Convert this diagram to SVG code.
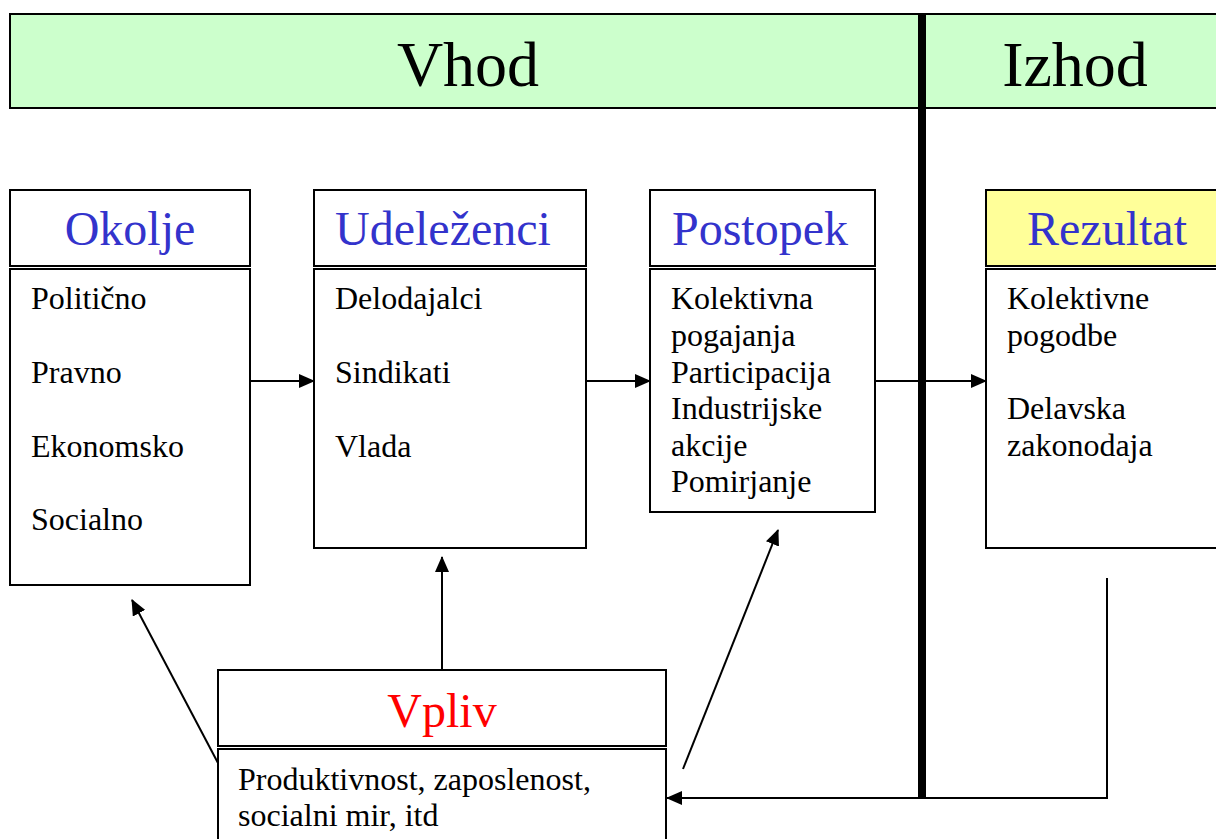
<svg xmlns="http://www.w3.org/2000/svg" width="1216" height="839" viewBox="0 0 1216 839">
<style>
.box{fill:#fff;stroke:#000;stroke-width:2}
.t{font-family:"Liberation Serif","Times New Roman",serif;font-size:32px;fill:#000}
.h{font-family:"Liberation Serif","Times New Roman",serif;font-size:48px;fill:#3333CC;text-anchor:middle}
.big{font-family:"Liberation Serif","Times New Roman",serif;font-size:64px;fill:#000;text-anchor:middle}
.ln{stroke:#000;stroke-width:2;fill:none}
</style>
<defs>
<marker id="ah" markerUnits="userSpaceOnUse" markerWidth="16" markerHeight="14" refX="15" refY="7" orient="auto">
<path d="M0,0 L16,7 L0,14 Z" fill="#000"/>
</marker>
</defs>
<rect width="1216" height="839" fill="#fff"/>
<g id="header">
<rect x="10" y="14" width="1212" height="94" fill="#CCFFCC" stroke="#000" stroke-width="2"/>
<text class="big" x="468" y="86">Vhod</text>
<text class="big" x="1075" y="86">Izhod</text>
</g>
<g id="okolje">
<rect class="box" x="10" y="190" width="240" height="76"/>
<text class="h" x="130" y="245">Okolje</text>
<rect class="box" x="10" y="269" width="240" height="316"/>
<text class="t" x="31" y="309">Politično</text>
<text class="t" x="31" y="383">Pravno</text>
<text class="t" x="31" y="457">Ekonomsko</text>
<text class="t" x="31" y="530">Socialno</text>
</g>
<g id="udelezenci">
<rect class="box" x="314" y="190" width="272" height="76"/>
<text class="h" x="443" y="245">Udeleženci</text>
<rect class="box" x="314" y="269" width="272" height="279"/>
<text class="t" x="335" y="309">Delodajalci</text>
<text class="t" x="335" y="383">Sindikati</text>
<text class="t" x="335" y="457">Vlada</text>
</g>
<g id="postopek">
<rect class="box" x="650" y="190" width="225" height="76"/>
<text class="h" x="760" y="245">Postopek</text>
<rect class="box" x="650" y="269" width="225" height="243"/>
<text class="t" x="671" y="309">Kolektivna</text>
<text class="t" x="671" y="346">pogajanja</text>
<text class="t" x="671" y="383">Participacija</text>
<text class="t" x="671" y="419">Industrijske</text>
<text class="t" x="671" y="456">akcije</text>
<text class="t" x="671" y="492">Pomirjanje</text>
</g>
<g id="rezultat">
<rect x="986" y="190" width="240" height="76" fill="#FFFF99" stroke="#000" stroke-width="2"/>
<text class="h" x="1107" y="245">Rezultat</text>
<rect class="box" x="986" y="269" width="240" height="279"/>
<text class="t" x="1007" y="309">Kolektivne</text>
<text class="t" x="1007" y="346">pogodbe</text>
<text class="t" x="1007" y="419">Delavska</text>
<text class="t" x="1007" y="456">zakonodaja</text>
</g>
<g id="vpliv">
<rect class="box" x="218" y="670" width="448" height="76"/>
<text class="h" x="442" y="727" style="fill:#FF0000">Vpliv</text>
<rect class="box" x="218" y="749" width="448" height="100"/>
<text class="t" x="238" y="790">Produktivnost, zaposlenost,</text>
<text class="t" x="238" y="826">socialni mir, itd</text>
</g>
<g id="connectors">
<line class="ln" x1="250" y1="381" x2="314" y2="381" marker-end="url(#ah)"/>
<line class="ln" x1="586" y1="381" x2="650" y2="381" marker-end="url(#ah)"/>
<line class="ln" x1="875" y1="381" x2="986" y2="381" marker-end="url(#ah)"/>
<line class="ln" x1="442" y1="670" x2="442" y2="557" marker-end="url(#ah)"/>
<line class="ln" x1="218" y1="763" x2="132" y2="600" marker-end="url(#ah)"/>
<line class="ln" x1="683" y1="769" x2="778" y2="530" marker-end="url(#ah)"/>
<polyline class="ln" points="1107,578 1107,798 667,798" marker-end="url(#ah)"/>
<line x1="922" y1="14" x2="922" y2="798" stroke="#000" stroke-width="8"/>
</g>
</svg>
